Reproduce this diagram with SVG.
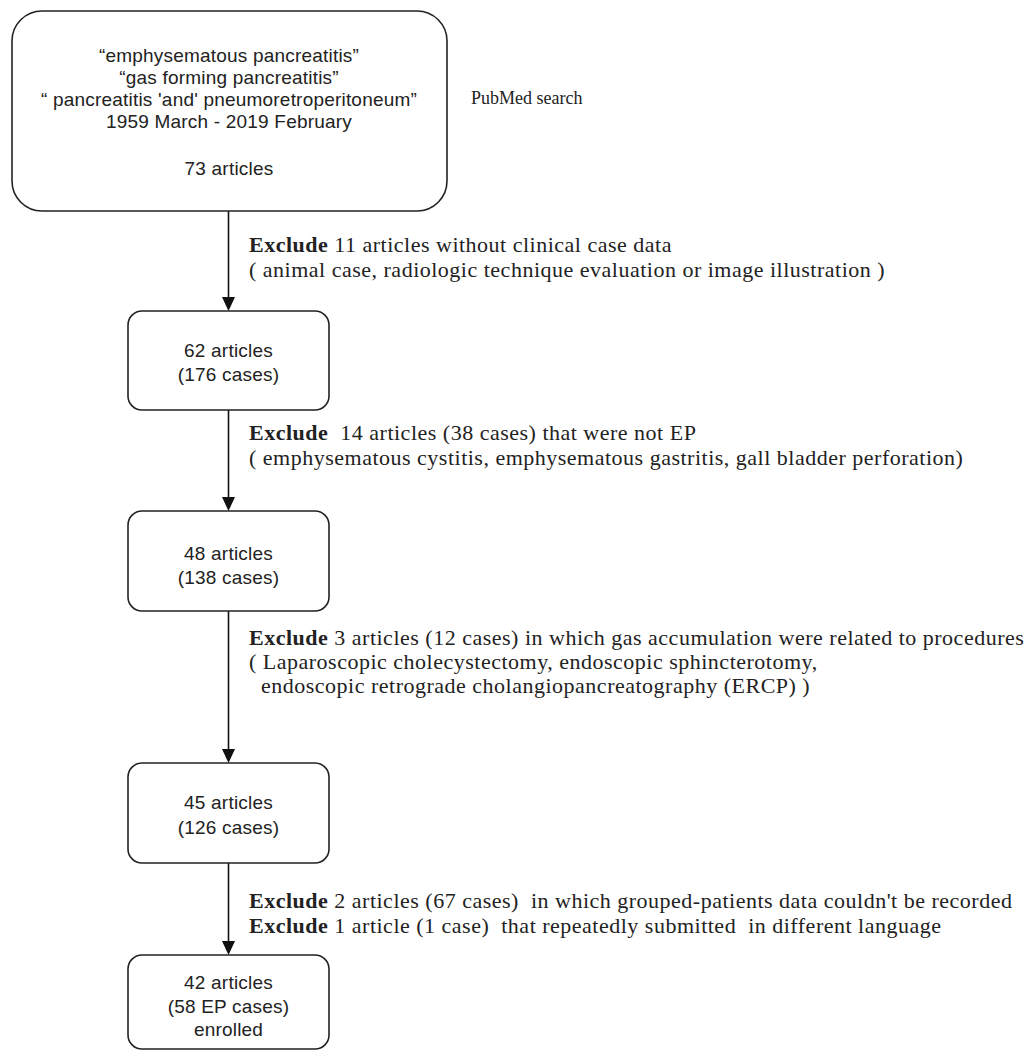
<svg xmlns="http://www.w3.org/2000/svg" width="1034" height="1052" viewBox="0 0 1034 1052">
<defs>
<style>
.box{fill:#fff;stroke:#222;stroke-width:1.6}
.sans{font-family:"Liberation Sans",Arial,sans-serif;font-size:19px;letter-spacing:0.2px;fill:#222;text-anchor:middle}
.serif{font-family:"Liberation Serif","Times New Roman",serif;font-size:22px;letter-spacing:0.5px;fill:#222}
.pub{font-family:"Liberation Serif","Times New Roman",serif;font-size:18px;fill:#222}
.b{font-weight:bold}
.conn{stroke:#111;stroke-width:1.6;fill:none}
.head{fill:#111}
</style>
</defs>
<rect width="1034" height="1052" fill="#fff"/>
<g id="connectors">
<line class="conn" x1="228.5" y1="211" x2="228.5" y2="298"/>
<path class="head" d="M222,297 L235,297 L228.5,311 Z"/>
<line class="conn" x1="228.5" y1="410" x2="228.5" y2="498"/>
<path class="head" d="M222,497 L235,497 L228.5,511 Z"/>
<line class="conn" x1="228.5" y1="611" x2="228.5" y2="750"/>
<path class="head" d="M222,749 L235,749 L228.5,763 Z"/>
<line class="conn" x1="228.5" y1="863" x2="228.5" y2="942"/>
<path class="head" d="M222,941 L235,941 L228.5,955 Z"/>
</g>
<g id="search">
<rect class="box" x="12" y="11" width="435" height="200" rx="30"/>
<text class="sans" x="229" y="62">“emphysematous pancreatitis”</text>
<text class="sans" x="229" y="84">“gas forming pancreatitis”</text>
<text class="sans" x="229" y="106">“ pancreatitis 'and' pneumoretroperitoneum”</text>
<text class="sans" x="229" y="128">1959 March - 2019 February</text>
<text class="sans" x="229" y="175">73 articles</text>
</g>
<g id="pubmed-label">
<text class="pub" x="471" y="104">PubMed search</text>
</g>
<g id="box62">
<rect class="box" x="128" y="311" width="201" height="99" rx="14"/>
<text class="sans" x="228.5" y="357">62 articles</text>
<text class="sans" x="228.5" y="381">(176 cases)</text>
</g>
<g id="box48">
<rect class="box" x="128" y="511" width="201" height="100" rx="14"/>
<text class="sans" x="228.5" y="560">48 articles</text>
<text class="sans" x="228.5" y="584">(138 cases)</text>
</g>
<g id="box45">
<rect class="box" x="128" y="763" width="201" height="100" rx="14"/>
<text class="sans" x="228.5" y="809">45 articles</text>
<text class="sans" x="228.5" y="834">(126 cases)</text>
</g>
<g id="box42">
<rect class="box" x="128" y="955" width="201" height="94" rx="14"/>
<text class="sans" x="228.5" y="989">42 articles</text>
<text class="sans" x="228.5" y="1013">(58 EP cases)</text>
<text class="sans" x="228.5" y="1036">enrolled</text>
</g>
<g id="exclusions">
<text class="serif" x="249" y="252"><tspan class="b">Exclude</tspan> 11 articles without clinical case data</text>
<text class="serif" x="249" y="277">( animal case, radiologic technique evaluation or image illustration )</text>
<text class="serif" x="249" y="440" xml:space="preserve"><tspan class="b">Exclude</tspan>  14 articles (38 cases) that were not EP</text>
<text class="serif" x="249" y="465">( emphysematous cystitis, emphysematous gastritis, gall bladder perforation)</text>
<text class="serif" x="249" y="645"><tspan class="b">Exclude</tspan> 3 articles (12 cases) in which gas accumulation were related to procedures</text>
<text class="serif" x="249" y="669">( Laparoscopic cholecystectomy, endoscopic sphincterotomy,</text>
<text class="serif" x="249" y="693" xml:space="preserve">  endoscopic retrograde cholangiopancreatography (ERCP) )</text>
<text class="serif" x="249" y="908" xml:space="preserve"><tspan class="b">Exclude</tspan> 2 articles (67 cases)  in which grouped-patients data couldn't be recorded</text>
<text class="serif" x="249" y="933" xml:space="preserve"><tspan class="b">Exclude</tspan> 1 article (1 case)  that repeatedly submitted  in different language</text>
</g>
</svg>
